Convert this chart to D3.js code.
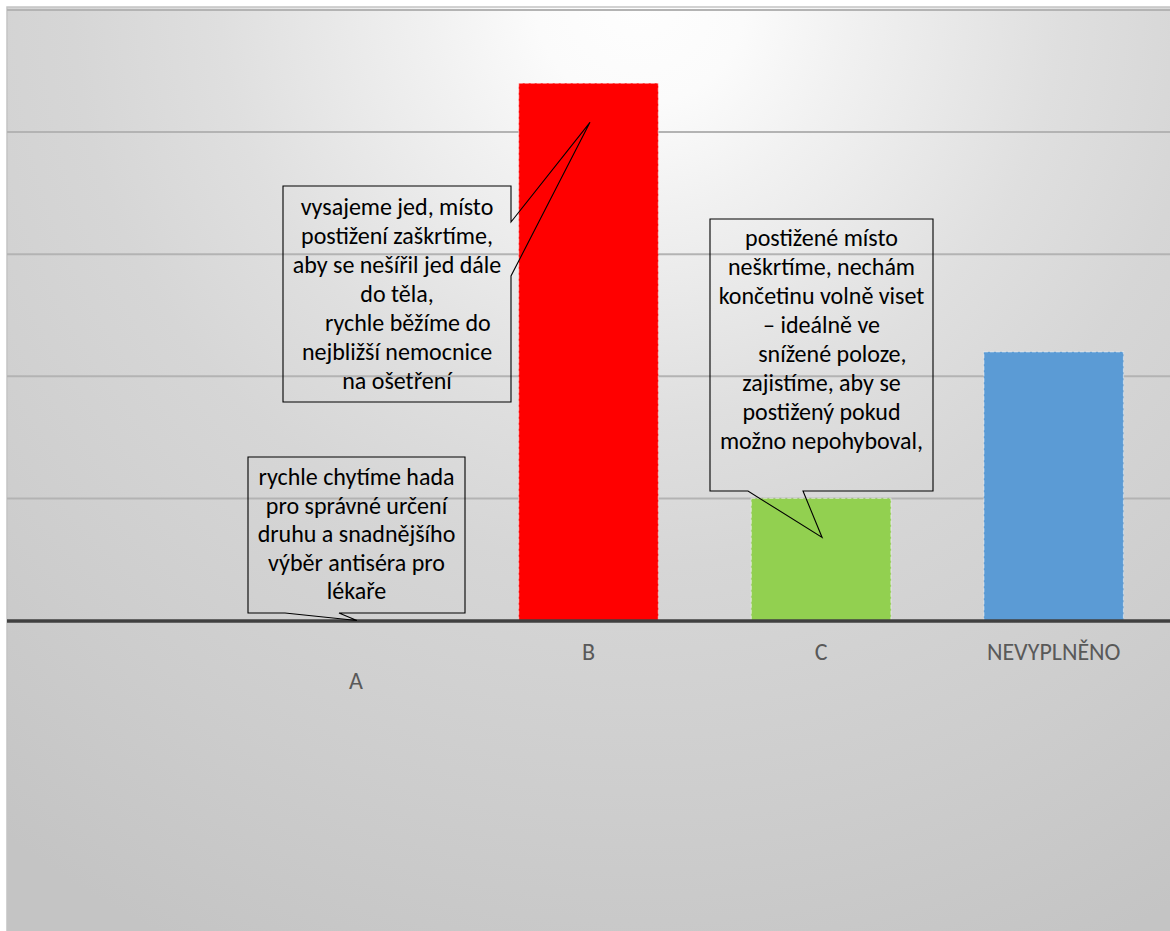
<!DOCTYPE html>
<html>
<head>
<meta charset="utf-8">
<script src="https://cdn.jsdelivr.net/npm/d3@7"></script>
<style>
  html, body { margin: 0; padding: 0; background: #ffffff; }
  svg { display: block; }
  text { font-family: Carlito, Calibri, Lato, "Open Sans", sans-serif; }
</style>
</head>
<body>
<svg id="chart" width="1170" height="931"></svg>
<script>
// Answers to the snakebite first-aid question
const categories = ["", "A", "B", "C", "NEVYPLNĚNO"];
const counts = [null, 0, 22, 5, 11];
const barColors = ["none", "#ff0000", "#ff0000", "#92d050", "#5b9bd5"];
const gridValues = [5, 10, 15, 20, 25];

// Callout texts for answers A, B and C
const calloutB = [
  "vysajeme jed, místo",
  "postižení zaškrtíme,",
  "aby se nešířil jed dále",
  "do těla,",
  "    rychle běžíme do",
  "nejbližší nemocnice",
  "na ošetření"
];
const calloutC = [
  "postižené místo",
  "neškrtíme, nechám",
  "končetinu volně viset",
  "– ideálně ve",
  "    snížené poloze,",
  "zajistíme, aby se",
  "postižený pokud",
  "možno nepohyboval,"
];
const calloutA = [
  "rychle chytíme hada",
  "pro správné určení",
  "druhu a snadnějšího",
  "výběr antiséra pro",
  "lékaře"
];

const W = 1170, H = 931;
const areaLeft = 7, areaTop = 7;
const svg = d3.select("#chart");

const x = d3.scaleBand().domain(categories).range([areaLeft, W]).paddingInner(0.4).paddingOuter(0.2);
const y = d3.scaleLinear().domain([0, 25]).range([620.5, 10]);

// Radial background of the chart area
const defs = svg.append("defs");
const rg = defs.append("radialGradient")
  .attr("id", "bg").attr("gradientUnits", "userSpaceOnUse")
  .attr("cx", 640).attr("cy", 0).attr("r", 1050);
[[0, "#fefefe"], [0.1, "#fbfbfb"], [0.2, "#f1f1f1"], [0.4, "#dfdfdf"], [0.54, "#d6d6d6"],
 [0.78, "#cdcdcd"], [1, "#c4c4c4"]].forEach(([o, c]) =>
  rg.append("stop").attr("offset", o).attr("stop-color", c));

svg.append("rect").attr("x", areaLeft).attr("y", areaTop).attr("width", W - areaLeft + 5).attr("height", H - areaTop + 5)
  .attr("fill", "url(#bg)").attr("stroke", "#c4c4c4").attr("stroke-width", 1.5);

// Horizontal gridlines
svg.append("g").selectAll("line").data(gridValues).join("line")
  .attr("x1", areaLeft).attr("x2", W)
  .attr("y1", d => y(d)).attr("y2", d => y(d))
  .attr("stroke", "#b3b3b3").attr("stroke-width", 2);

// Bars
svg.append("g").selectAll("rect").data(categories.map((c, i) => ({ c, v: counts[i], col: barColors[i] })).filter(d => d.v > 0))
  .join("rect")
  .attr("x", d => x(d.c)).attr("width", x.bandwidth())
  .attr("y", d => y(d.v)).attr("height", d => y(0) - y(d.v))
  .attr("fill", d => d.col)
  .attr("stroke", "#ffffff").attr("stroke-opacity", 0.45)
  .attr("stroke-width", 1.2).attr("stroke-dasharray", "4 2");

// Category axis
svg.append("line").attr("x1", areaLeft).attr("x2", W).attr("y1", y(0) + 0.5).attr("y2", y(0) + 0.5)
  .attr("stroke", "#404040").attr("stroke-width", 3.5);

svg.append("g").selectAll("text").data(categories).join("text")
  .attr("x", d => x(d) + x.bandwidth() / 2)
  .attr("y", d => d === "A" ? 689 : 660)
  .attr("text-anchor", "middle")
  .attr("font-size", 24)
  .attr("fill", "#595959")
  .text(d => d);

// Callouts: box, wedge pointing to the bar, centred text lines
const callouts = [
  { cat: "B", anchor: 20.4, dx: 1.5, lines: calloutB, box: [283, 186, 228, 216], side: "right", base: [222, 276], first: 29, lh: 29 },
  { cat: "C", anchor: 3.4, dx: 1, lines: calloutC, box: [710, 219, 223, 272], side: "bottom", base: [748, 803], first: 27, lh: 29 },
  { cat: "A", anchor: 0, dx: 1, lines: calloutA, box: [248, 457, 217, 156], side: "bottom", base: [285, 339], first: 28, lh: 28.5 }
];

callouts.forEach(co => {
  const [bx, by, bw, bh] = co.box;
  const tx = x(co.cat) + x.bandwidth() / 2 + co.dx;
  const ty = y(co.anchor);
  const p = d3.path();
  if (co.side === "right") {
    p.moveTo(bx, by); p.lineTo(bx + bw, by);
    p.lineTo(bx + bw, co.base[0]); p.lineTo(tx, ty); p.lineTo(bx + bw, co.base[1]);
    p.lineTo(bx + bw, by + bh); p.lineTo(bx, by + bh); p.closePath();
  } else {
    p.moveTo(bx, by); p.lineTo(bx + bw, by); p.lineTo(bx + bw, by + bh);
    p.lineTo(co.base[1], by + bh); p.lineTo(tx, ty); p.lineTo(co.base[0], by + bh);
    p.lineTo(bx, by + bh); p.closePath();
  }
  svg.append("path").attr("d", p.toString())
    .attr("fill", "none").attr("stroke", "#000000").attr("stroke-width", 1.1)
    .attr("stroke-linejoin", "miter");

  svg.append("g").selectAll("text").data(co.lines).join("text")
    .attr("x", bx + bw / 2)
    .attr("y", (d, i) => by + co.first + i * co.lh)
    .attr("text-anchor", "middle")
    .attr("font-size", 24)
    .attr("fill", "#000000")
    .style("white-space", "pre")
    .text(d => d);
});
</script>
</body>
</html>
